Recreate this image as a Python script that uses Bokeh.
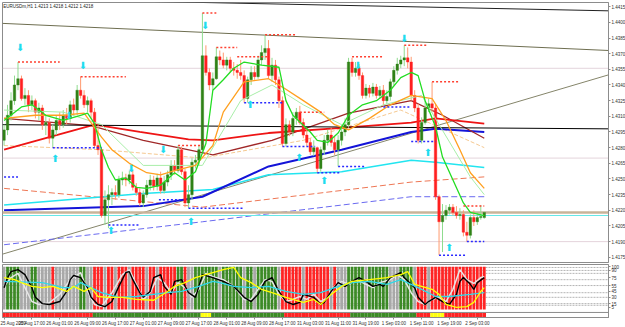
from bokeh.plotting import figure
from bokeh.models import Range1d, FixedTicker, NumeralTickFormatter, Label, ColumnDataSource, Span
from bokeh.layouts import column
from bokeh.embed import file_html
from bokeh.resources import INLINE
from bokeh.core.properties import value

TITLE = "EURUSDm,H1  1.4213 1.4218 1.4212 1.4218"

open_ = [1.4287, 1.4297, 1.4311, 1.4325, 1.4340, 1.4346, 1.4327, 1.4330, 1.4321, 1.4325,
         1.4314, 1.4318, 1.4302, 1.4304, 1.4289, 1.4297, 1.4306, 1.4302, 1.4311, 1.4308,
         1.4321, 1.4316, 1.4335, 1.4330, 1.4321, 1.4325, 1.4314, 1.4282, 1.4278, 1.4215,
         1.4230, 1.4235, 1.4237, 1.4235, 1.4249, 1.4251, 1.4249, 1.4254, 1.4242, 1.4237,
         1.4227, 1.4235, 1.4244, 1.4249, 1.4243, 1.4251, 1.4239, 1.4247, 1.4254, 1.4263,
         1.4258, 1.4278, 1.4257, 1.4227, 1.4235, 1.4266, 1.4268, 1.4278, 1.4368, 1.4352,
         1.4340, 1.4346, 1.4367, 1.4364, 1.4359, 1.4364, 1.4356, 1.4354, 1.4352, 1.4349,
         1.4327, 1.4345, 1.4352, 1.4348, 1.4364, 1.4371, 1.4375, 1.4349, 1.4359, 1.4345,
         1.4325, 1.4284, 1.4302, 1.4295, 1.4308, 1.4314, 1.4304, 1.4292, 1.4285, 1.4276,
         1.4280, 1.4260, 1.4278, 1.4287, 1.4292, 1.4285, 1.4278, 1.4287, 1.4295, 1.4302,
         1.4362, 1.4352, 1.4356, 1.4349, 1.4330, 1.4337, 1.4332, 1.4338, 1.4330, 1.4335,
         1.4325, 1.4329, 1.4343, 1.4354, 1.4360, 1.4364, 1.4366, 1.4362, 1.4330, 1.4318,
         1.4287, 1.4304, 1.4318, 1.4322, 1.4318, 1.4233, 1.4209, 1.4215, 1.4220, 1.4223,
         1.4218, 1.4215, 1.4216, 1.4199, 1.4196, 1.4213, 1.4209, 1.4213, 1.4213]
close = [1.4297, 1.4311, 1.4325, 1.4340, 1.4346, 1.4327, 1.4330, 1.4321, 1.4325, 1.4314,
         1.4318, 1.4302, 1.4304, 1.4289, 1.4297, 1.4306, 1.4302, 1.4311, 1.4308, 1.4321,
         1.4316, 1.4335, 1.4330, 1.4321, 1.4325, 1.4314, 1.4282, 1.4278, 1.4215, 1.4230,
         1.4235, 1.4237, 1.4235, 1.4249, 1.4251, 1.4249, 1.4254, 1.4242, 1.4237, 1.4227,
         1.4235, 1.4244, 1.4249, 1.4243, 1.4251, 1.4239, 1.4247, 1.4254, 1.4263, 1.4258,
         1.4278, 1.4257, 1.4227, 1.4235, 1.4266, 1.4268, 1.4278, 1.4368, 1.4352, 1.4340,
         1.4346, 1.4367, 1.4364, 1.4359, 1.4364, 1.4356, 1.4354, 1.4352, 1.4349, 1.4327,
         1.4345, 1.4352, 1.4348, 1.4364, 1.4371, 1.4375, 1.4349, 1.4359, 1.4345, 1.4325,
         1.4284, 1.4302, 1.4295, 1.4308, 1.4314, 1.4304, 1.4292, 1.4285, 1.4276, 1.4280,
         1.4260, 1.4278, 1.4287, 1.4292, 1.4285, 1.4278, 1.4287, 1.4295, 1.4302, 1.4362,
         1.4352, 1.4356, 1.4349, 1.4330, 1.4337, 1.4332, 1.4338, 1.4330, 1.4335, 1.4325,
         1.4329, 1.4343, 1.4354, 1.4360, 1.4364, 1.4366, 1.4362, 1.4330, 1.4318, 1.4287,
         1.4304, 1.4318, 1.4322, 1.4318, 1.4233, 1.4209, 1.4215, 1.4220, 1.4223, 1.4218,
         1.4215, 1.4216, 1.4199, 1.4196, 1.4213, 1.4209, 1.4213, 1.4214, 1.4218]
high = [1.4302, 1.4321, 1.4333, 1.4349, 1.4362, 1.4349, 1.4337, 1.4335, 1.4330, 1.4327,
        1.4323, 1.4321, 1.4311, 1.4308, 1.4302, 1.4311, 1.4314, 1.4316, 1.4318, 1.4325,
        1.4327, 1.4340, 1.4348, 1.4335, 1.4329, 1.4327, 1.4318, 1.4302, 1.4280, 1.4239,
        1.4244, 1.4241, 1.4244, 1.4253, 1.4257, 1.4255, 1.4258, 1.4258, 1.4246, 1.4241,
        1.4239, 1.4249, 1.4254, 1.4253, 1.4255, 1.4257, 1.4253, 1.4258, 1.4268, 1.4268,
        1.4282, 1.4281, 1.4260, 1.4244, 1.4270, 1.4273, 1.4282, 1.4409, 1.4378, 1.4356,
        1.4352, 1.4376, 1.4373, 1.4371, 1.4367, 1.4367, 1.4362, 1.4360, 1.4364, 1.4354,
        1.4348, 1.4358, 1.4358, 1.4368, 1.4378, 1.4388, 1.4383, 1.4366, 1.4364, 1.4348,
        1.4329, 1.4308, 1.4306, 1.4314, 1.4318, 1.4320, 1.4308, 1.4297, 1.4289, 1.4287,
        1.4281, 1.4281, 1.4292, 1.4297, 1.4299, 1.4291, 1.4292, 1.4302, 1.4308, 1.4366,
        1.4366, 1.4362, 1.4360, 1.4352, 1.4341, 1.4340, 1.4342, 1.4341, 1.4339, 1.4340,
        1.4335, 1.4346, 1.4358, 1.4366, 1.4368, 1.4378, 1.4376, 1.4367, 1.4335, 1.4322,
        1.4309, 1.4325, 1.4327, 1.4343, 1.4322, 1.4235, 1.4226, 1.4225, 1.4226, 1.4226,
        1.4224, 1.4222, 1.4220, 1.4209, 1.4216, 1.4220, 1.4218, 1.4225, 1.4218]
low = [1.4282, 1.4292, 1.4306, 1.4321, 1.4335, 1.4325, 1.4321, 1.4314, 1.4316, 1.4308,
       1.4306, 1.4297, 1.4292, 1.4284, 1.4280, 1.4292, 1.4297, 1.4299, 1.4302, 1.4304,
       1.4311, 1.4311, 1.4327, 1.4318, 1.4314, 1.4308, 1.4280, 1.4273, 1.4213, 1.4206,
       1.4203, 1.4225, 1.4230, 1.4232, 1.4244, 1.4243, 1.4245, 1.4239, 1.4234, 1.4224,
       1.4223, 1.4232, 1.4239, 1.4239, 1.4239, 1.4236, 1.4236, 1.4243, 1.4249, 1.4254,
       1.4256, 1.4254, 1.4223, 1.4222, 1.4230, 1.4260, 1.4263, 1.4276, 1.4349, 1.4335,
       1.4335, 1.4345, 1.4359, 1.4356, 1.4354, 1.4352, 1.4349, 1.4346, 1.4345, 1.4323,
       1.4323, 1.4340, 1.4345, 1.4346, 1.4359, 1.4364, 1.4346, 1.4343, 1.4340, 1.4318,
       1.4281, 1.4281, 1.4291, 1.4291, 1.4302, 1.4302, 1.4289, 1.4281, 1.4273, 1.4272,
       1.4256, 1.4257, 1.4273, 1.4282, 1.4281, 1.4273, 1.4262, 1.4282, 1.4291, 1.4299,
       1.4348, 1.4348, 1.4345, 1.4327, 1.4327, 1.4328, 1.4329, 1.4327, 1.4327, 1.4319,
       1.4322, 1.4325, 1.4340, 1.4350, 1.4356, 1.4358, 1.4356, 1.4325, 1.4314, 1.4284,
       1.4284, 1.4302, 1.4314, 1.4314, 1.4230, 1.4177, 1.4180, 1.4211, 1.4216, 1.4215,
       1.4212, 1.4211, 1.4195, 1.4190, 1.4193, 1.4205, 1.4206, 1.4211, 1.4212]

price_ticks = [1.4175, 1.4190, 1.4205, 1.4220, 1.4235, 1.4250, 1.4265, 1.4280, 1.4295,
               1.4310, 1.4325, 1.4340, 1.4355, 1.4370, 1.4385, 1.4400, 1.4415]
date_ticks = [0, 8, 16, 24, 32, 40, 48, 56, 64, 72, 80, 88, 96, 104, 112, 120, 128, 136]
date_labels = ["25 Aug 2009", "25 Aug 17:00", "26 Aug 01:00", "26 Aug 09:00", "26 Aug 17:00",
               "27 Aug 01:00", "27 Aug 09:00", "27 Aug 17:00", "28 Aug 01:00", "28 Aug 09:00",
               "28 Aug 17:00", "31 Aug 03:00", "31 Aug 11:00", "31 Aug 19:00", "1 Sep 03:00",
               "1 Sep 11:00", "1 Sep 19:00", "2 Sep 03:00"]

# moving averages (bar index, price)
green_x = [0,5,8,12,17,22,24,26,28,30,32,35,38,41,45,49,52,55,58,60,63,66,69,74,79,81,83,88,90,93,96,99,103,107,111,114,117,119,121,124,126,129,132,134,138]
green_y = [1.4306,1.4319,1.4321,1.4311,1.4306,1.4311,1.4313,1.4303,1.4278,1.4261,1.4249,1.4251,1.4242,1.4241,1.4244,1.4256,1.4249,1.4257,1.4284,1.4335,1.4345,1.4356,1.4362,1.4359,1.4357,1.4325,1.4311,1.4295,1.4287,1.4285,1.4294,1.4311,1.4321,1.4325,1.4335,1.4347,1.4352,1.4349,1.4325,1.4300,1.4271,1.4249,1.4227,1.4218,1.4215]
orange_x = [0,9,17,23,28,31,36,41,45,49,55,60,63,69,76,80,86,91,95,99,105,111,117,123,127,131,134,138]
orange_y = [1.4308,1.4311,1.4311,1.4313,1.4290,1.4278,1.4265,1.4256,1.4254,1.4258,1.4263,1.4282,1.4314,1.4343,1.4346,1.4338,1.4325,1.4314,1.4302,1.4297,1.4308,1.4321,1.4330,1.4327,1.4306,1.4278,1.4256,1.4241]
lgreen_x = [0,17,28,40,57,68,77,86,97,109,120,134,138]
lgreen_y = [1.4316,1.4314,1.4302,1.4263,1.4263,1.4325,1.4340,1.4321,1.4302,1.4321,1.4330,1.4252,1.4235]
wheat_x = [0,28,57,86,114,138]
wheat_y = [1.4282,1.4278,1.4270,1.4287,1.4316,1.4280]
red_x = [0,26,39,53,60,76,97,117,124,138]
red_y = [1.4278,1.4302,1.4295,1.4288,1.4287,1.4294,1.4299,1.4304,1.4308,1.4303]
brown_x = [0,25,40,60,77,99,117,126,138]
brown_y = [1.4308,1.4301,1.4287,1.4273,1.4287,1.4313,1.4325,1.4311,1.4289]
blue_x = [0,40,57,76,97,117,124,138]
blue_y = [1.4220,1.4224,1.4233,1.4262,1.4278,1.4295,1.4298,1.4295]
cyanma_x = [0,40,60,76,97,117,124,138]
cyanma_y = [1.4225,1.4236,1.4240,1.4254,1.4257,1.4268,1.4266,1.4261]
dred_x = [0,57,117,138]
dred_y = [1.4241,1.4223,1.4247,1.4252]
dblue_x = [0,57,117,138]
dblue_y = [1.4187,1.4209,1.4233,1.4233]

# trend lines (bar, price)
tl_black_x = [28, 174]; tl_black_y = [1.4421, 1.4411]
tl_olive_x = [-0.45, 174]; tl_olive_y = [1.4399, 1.4373]
tl_rise_x = [-0.45, 174]; tl_rise_y = [1.4178, 1.4350]
hl_black_x = [-0.45, 174]; hl_black_y = [1.4302, 1.4298]

levels_pink = [1.4356, 1.4270, 1.4190]
level_tan = 1.4218
level_bid = 1.4215

dn_x = [4.6, 18.7, 22.7, 36.5, 45.7, 57.8, 101.7, 115.0]
dn_y = [1.4376, 1.4311, 1.4359, 1.4260, 1.4278, 1.4397, 1.4359, 1.4385]
up_x = [14.7, 30.7, 53.7, 70.7, 84.8, 92.0, 121.8, 127.9]
up_y = [1.4270, 1.4201, 1.4209, 1.4321, 1.4271, 1.4249, 1.4275, 1.4184]

res_x0 = [4, 22, 50, 57, 61, 67, 75, 85, 100, 115, 123, 132]
res_x1 = [16, 35, 57, 61, 67, 76, 84, 92, 109, 121.5, 131, 138]
res_y = [1.4362, 1.4348, 1.4282, 1.4409, 1.4376, 1.4367, 1.4388, 1.4314, 1.4367, 1.4378, 1.4343, 1.4224]
sup_x0 = [0, 14, 30, 44.5, 53, 69, 80, 90, 96, 109, 117, 125, 133]
sup_x1 = [4, 28, 39, 51, 69, 80.5, 89.4, 96.5, 103.5, 117, 124, 132.5, 138]
sup_y = [1.4252, 1.4280, 1.4206, 1.4230, 1.4222, 1.4323, 1.4281, 1.4256, 1.4262, 1.4319, 1.4286, 1.4177, 1.4190]

# lower panel
col_codes = ("s" + "gggg" + "sss" + "gg" + "ssss" + "r" + "sssssss" + "gg" + "ss" +
             "rrrsrrsrrrsrrrrsrrsrrrrr" + "gg" + "r" + "ss" + "gggggggsgggggg" + "s" +
             "ggsgggggg" + "s" + "rrrrrr" + "s" + "rrrrrrr" + "s" + "r" + "sss" +
             "gggggsgggggg" + "sss" + "gggg" + "s" + "rrr" + "s" + "rrrrrrrrrrrrrrrr")
strip_codes = "r"*26 + "g"*31 + "y"*3 + "g"*21 + "r"*19 + "g"*19 + "r"*4 + "y"*4 + "r"*12

black_x = [0,1,2,4,6,8,9,11,13,16,18,19,20,22,24,25,27,29,31,33,35,36,37,39,40,42,43,45,46,48,49,51,53,55,56,57,60,63,66,69,71,73,75,77,79,81,83,85,86,89,91,92,94,96,98,100,102,104,106,108,109,111,114,115,118,119,121,122,124,126,128,130,131,132,134,135,136,138]
black_v = [52,76,90,95,83,52,29,14,12,19,43,71,81,76,52,29,12,7,19,55,88,90,71,40,29,43,76,83,55,36,67,71,40,29,55,83,76,67,55,29,19,36,67,76,43,19,12,17,36,29,12,17,43,64,55,67,76,67,55,60,55,76,88,76,52,29,12,19,29,19,12,36,67,76,60,48,64,76]
white_x = [0,2,4,6,8,10,13,16,19,22,24,26,28,31,34,36,38,40,42,44,46,48,50,52,54,56,58,60,63,66,69,71,73,75,77,79,81,83,85,87,89,91,93,95,97,99,101,103,106,108,111,113,115,117,119,121,123,125,127,129,131,133,135,137,138]
white_v = [55,76,86,52,19,12,16,36,71,88,43,12,7,40,83,95,60,24,40,76,64,40,64,52,29,48,86,78,71,55,24,24,48,71,67,36,19,24,31,24,36,19,29,55,67,60,71,64,52,64,71,83,71,40,19,12,24,29,19,48,95,71,62,76,78]
cyan_x = [0,11,17,20,22,28,33,38,47,51,56,60,62,66,71,76,81,86,91,95,100,105,110,114,119,124,128,134,138]
cyan_v = [67,64,52,52,64,40,29,31,40,43,55,67,64,55,52,55,43,36,40,52,64,67,60,71,52,31,31,36,40]
yellow_x = [0,3,5,8,11,14,18,20,23,25,27,30,34,38,43,47,49,52,55,58,61,63,66,68,71,74,77,81,86,89,91,94,97,100,105,110,114,116,118,123,125,127,130,133,135,137,138]
yellow_v = [76,71,64,55,52,55,43,55,43,52,31,29,29,24,22,43,55,64,76,83,90,95,100,76,64,48,40,29,17,24,12,36,55,67,71,76,83,90,60,48,36,12,5,7,17,43,52]
osc_levels = [100, 93, 86, 71, 57, 40, 29, 14, 10]
osc_ticks = [102, 93, 76, 57, 43, 29, 14, 5]
osc_tick_labels = ["100", "90", "75", "55", "45", "30", "15", "5"]

FONT = "Liberation Sans"
n = len(close)
bars = list(range(n))
xr = Range1d(-0.45, 173.7)

# ---------------- main panel ----------------
p = figure(output_backend="svg", toolbar_location=None, x_range=xr,
           y_range=Range1d(1.41700, 1.44190), frame_width=606, frame_height=260,
           min_border_left=2, min_border_right=0, min_border_top=2, min_border_bottom=1,
           y_axis_location="right", x_axis_location=None,
           background_fill_color="white", border_fill_color="white",
           outline_line_color="#8c8c8c")
p.grid.visible = False
ax = p.yaxis[0]
ax.ticker = FixedTicker(ticks=price_ticks)
ax.formatter = NumeralTickFormatter(format="0.0000")
ax.major_label_text_font_size = "4.5px"
ax.major_label_text_font = FONT
ax.major_label_text_color = "#303030"
ax.major_tick_in = 0
ax.major_tick_out = 2
ax.major_label_standoff = 1
ax.minor_tick_line_color = None
ax.axis_line_color = "#8c8c8c"
ax.major_tick_line_color = "#8c8c8c"

for lv in levels_pink:
    p.add_layout(Span(location=lv, dimension="width", line_color="#c8a8b8",
                      line_dash="1 1", line_width=1, level="underlay"))

p.line(tl_black_x, tl_black_y, line_color="#202020", line_width=1)
p.line(tl_olive_x, tl_olive_y, line_color="#6e6e50", line_width=1)
p.line(tl_rise_x, tl_rise_y, line_color="#85856a", line_width=1)

p.line(dblue_x, dblue_y, line_color="#6a6af0", line_width=1, line_dash="6 3")
p.line(dred_x, dred_y, line_color="#ee7755", line_width=1, line_dash="6 3")
p.line(wheat_x, wheat_y, line_color="#f5c890", line_width=1, line_dash="4 2")
p.line(cyanma_x, cyanma_y, line_color="#22e5f0", line_width=1.5)
p.line(blue_x, blue_y, line_color="#1414d8", line_width=2)
p.line(brown_x, brown_y, line_color="#a02828", line_width=1.3)
p.line(red_x, red_y, line_color="#ee1414", line_width=1.8)
p.line(hl_black_x, hl_black_y, line_color="#000000", line_width=1)

p.line([-0.45, 174], [level_tan, level_tan], line_color="#c8b49a", line_width=2.5)
p.line([-0.45, 174], [level_bid, level_bid], line_color="#66e8e8", line_width=1)

inc = [c >= o for o, c in zip(open_, close)]
src = ColumnDataSource(dict(
    x=bars, h=high, l=low,
    top=[max(o, c) for o, c in zip(open_, close)],
    bot=[min(o, c) - (0.00004 if o == c else 0) for o, c in zip(open_, close)],
    wick=["#8fdc8f" if u else "#ff9a70" for u in inc],
    body=["#2f8216" if u else "#ff2020" for u in inc]))
p.segment(x0="x", y0="h", x1="x", y1="l", source=src, line_color="wick", line_width=1)
p.vbar(x="x", width=0.72, top="top", bottom="bot", source=src,
       fill_color="body", line_color="body", line_width=0.4)

p.line(lgreen_x, lgreen_y, line_color="#a8eea8", line_width=1)
p.line(orange_x, orange_y, line_color="#ffa020", line_width=1.3)
p.line(green_x, green_y, line_color="#22dd22", line_width=1.3)

p.segment(x0=res_x0, y0=res_y, x1=res_x1, y1=res_y, line_color="#ff4030",
          line_width=1.5, line_dash="2 2")
p.segment(x0=sup_x0, y0=sup_y, x1=sup_x1, y1=sup_y, line_color="#2a2aff",
          line_width=1.5, line_dash="2 2")

p.text(x=dn_x, y=dn_y, text=["\u2b07"] * len(dn_x), text_color="#20dcef",
       text_font_size="10px", text_align="center", text_baseline="middle",
       text_font=value("DejaVu Sans"))
p.text(x=up_x, y=up_y, text=["\u2b06"] * len(up_x), text_color="#20dcef",
       text_font_size="10px", text_align="center", text_baseline="middle",
       text_font=value("DejaVu Sans"))

p.add_layout(Label(x=-0.2, y=1.44155, text=TITLE, text_font_size="4.5px",
                   text_font=FONT, text_color="#202020", text_baseline="middle"))
for lv in levels_pink:
    p.add_layout(Label(x=173.7, y=lv, text="%.4f" % lv, x_offset=1, text_font_size="4.5px",
                       text_font=FONT, text_color="#ffffff", text_baseline="middle",
                       background_fill_color="#e2a4e2"))
p.add_layout(Label(x=173.7, y=level_tan, text="%.4f" % level_tan, x_offset=1, y_offset=2,
                   text_font_size="4.5px", text_font=FONT, text_color="#ffffff",
                   text_baseline="middle", background_fill_color="#ff2020"))
p.add_layout(Label(x=173.7, y=level_bid, text="%.4f" % level_bid, x_offset=1, y_offset=-1,
                   text_font_size="4.5px", text_font=FONT, text_color="#ffffff",
                   text_baseline="middle", background_fill_color="#000000"))

# ---------------- lower panel ----------------
q = figure(output_backend="svg", toolbar_location=None, x_range=xr,
           y_range=Range1d(-19, 107.1), frame_width=606, frame_height=53,
           min_border_left=2, min_border_right=0, min_border_top=1, min_border_bottom=0,
           y_axis_location="right", background_fill_color="white",
           border_fill_color="white", outline_line_color="#8c8c8c")
q.grid.visible = False
for lv in osc_levels:
    q.add_layout(Span(location=lv, dimension="width", line_color="#b4b4b4",
                      line_dash="2 1", line_width=1, level="underlay"))
cmap = {"r": "#ff2424", "g": "#3c8a26", "s": "#a8a8a8", "y": "#ffff10"}
cols = [cmap[c] for c in col_codes[:n]]
q.vbar(x=bars[:len(cols)], width=0.8, top=102, bottom=0, fill_color=cols, line_color=None)
q.quad(left=[-0.45], right=[173.7], top=[-7], bottom=[-19], fill_color="white",
       line_color="#8c8c8c", line_width=1)
scols = [cmap[c] for c in strip_codes[:n]]
q.vbar(x=bars[:len(scols)], width=1.0, top=-8, bottom=-18, fill_color=scols, line_color=None)

q.line(white_x, white_v, line_color="#e6e6e6", line_width=1.5)
q.line(black_x, black_v, line_color="#000000", line_width=1.4)
q.line(cyan_x, cyan_v, line_color="#30d8e8", line_width=1.3)
q.line(yellow_x, yellow_v, line_color="#ffff00", line_width=1.3)

qa = q.yaxis[0]
qa.ticker = FixedTicker(ticks=osc_ticks)
qa.major_label_overrides = {t: s for t, s in zip(osc_ticks, osc_tick_labels)}
qa.major_label_text_font_size = "4.5px"
qa.major_label_text_font = FONT
qa.major_label_text_color = "#303030"
qa.major_tick_in = 0
qa.major_tick_out = 2
qa.major_label_standoff = 1
qa.minor_tick_line_color = None
qa.axis_line_color = "#8c8c8c"
qa.major_tick_line_color = "#8c8c8c"

xa = q.xaxis[0]
xa.ticker = FixedTicker(ticks=date_ticks)
xa.major_label_overrides = {t: s for t, s in zip(date_ticks, date_labels)}
xa.major_label_text_font_size = "4.5px"
xa.major_label_text_font = FONT
xa.major_label_text_color = "#303030"
xa.major_label_text_align = "left"
xa.major_tick_in = 0
xa.major_tick_out = 2
xa.major_label_standoff = 1
xa.minor_tick_line_color = None
xa.axis_line_color = "#8c8c8c"
xa.major_tick_line_color = "#8c8c8c"

layout = column(p, q, spacing=0)
open("out.html", "w").write(file_html(layout, INLINE))
